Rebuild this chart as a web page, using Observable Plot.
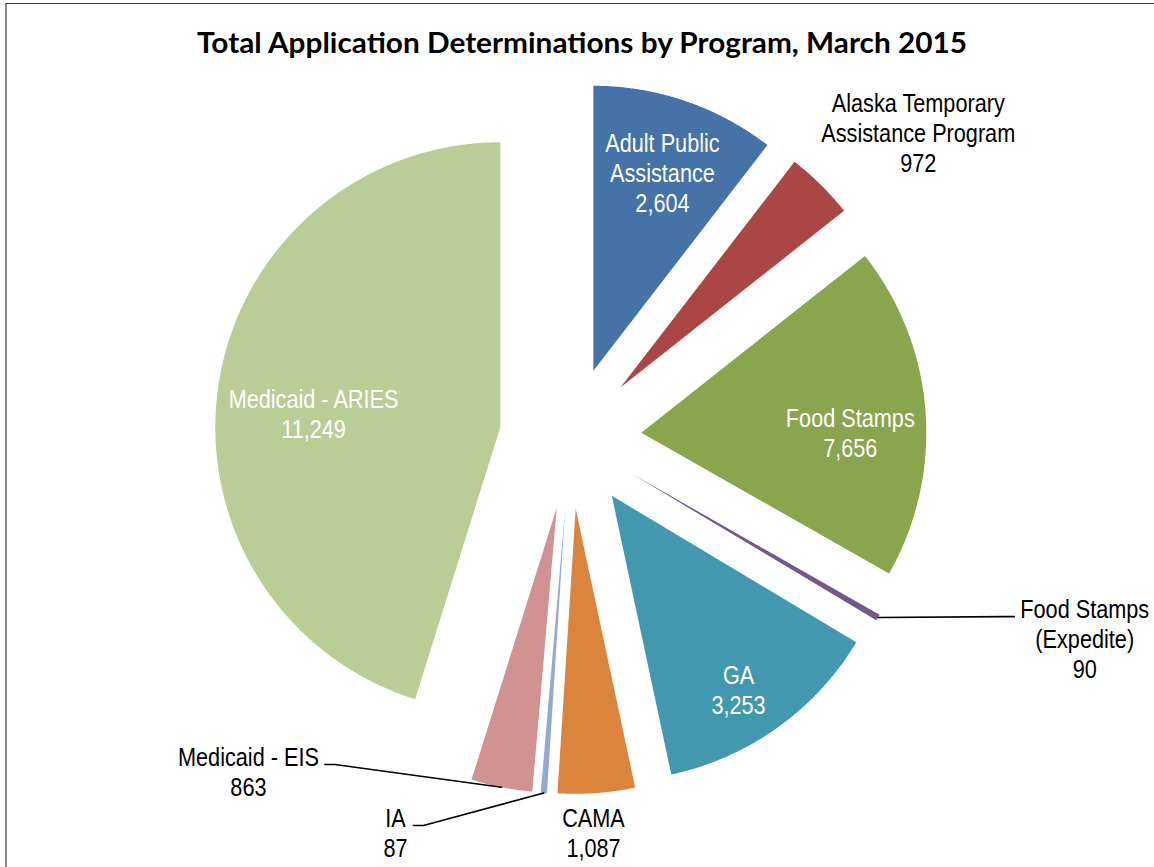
<!DOCTYPE html>
<html><head><meta charset="utf-8">
<script src="https://cdn.jsdelivr.net/npm/d3@7"></script>
<script src="https://cdn.jsdelivr.net/npm/@observablehq/plot@0.6"></script>
<style>
body{margin:0;background:#fff;}
#wrap{position:relative;width:1154px;height:867px;overflow:hidden;background:#fff;}
#frame{position:absolute;left:5px;top:3px;width:1200px;height:900px;border-top:1px solid #3a3a3a;border-left:2px solid #878787;box-sizing:border-box;}
#chart{position:absolute;left:0;top:0;}
#title{position:absolute;left:0;top:28px;width:1164px;text-align:center;white-space:nowrap;font-family:Lato, "Open Sans", sans-serif;font-weight:bold;font-size:28px;line-height:28px;color:#000;}
#title span{display:inline-block;transform-origin:center;}
</style></head><body>
<div id="wrap"><div id="frame"></div><div id="chart"></div><div id="title"><span>Total Application Determinations by Program, March 2015</span></div></div>
<script>
// ---- data ----
const programs = ["Adult Public Assistance", "Alaska Temporary Assistance Program", "Food Stamps", "Food Stamps (Expedite)", "GA", "CAMA", "IA", "Medicaid - EIS", "Medicaid - ARIES"];
const labelLines = [["Adult Public", "Assistance"], ["Alaska Temporary", "Assistance Program"], ["Food Stamps"], ["Food Stamps", "(Expedite)"], ["GA"], ["CAMA"], ["IA"], ["Medicaid - EIS"], ["Medicaid - ARIES"]];
const determinations = [2604, 972, 7656, 90, 3253, 1087, 87, 863, 11249];
// slice sizes as drawn in the picture (the Food Stamps wedge is drawn at ~4,700 although labelled 7,656)
const sliceSizes = [2604, 972, 4700, 90, 3253, 1087, 87, 863, 11249];
const colors = ["#4572A7", "#AA4643", "#89A54E", "#71588F", "#4198AF", "#DB843D", "#93A9CF", "#D19392", "#B9CD96"];

// ---- layout ----
const W = 1154, H = 867;
const cx = 570, cy = 437.5, R = 285, explode = 71;
const insideLabel = [true, false, true, false, true, false, false, false, true];
const labelPolar = [[19.2, 210], [49.45, 392], [90, 209], [110, 482], [146.8, 231.5], [176.85, 324], [207.67, 365.5], [229.45, 405.8], [274.2, 187.3]];
const leaderFor = [3, 6, 7];
const fontFamily = "'Liberation Sans', Arial, sans-serif";
const fontSize = 25.5, lineH = 30, narrow = 0.85;

const d2r = Math.PI / 180;
const arcs = d3.pie().sort(null).value(d => d)(sliceSizes);
const slices = arcs.map((a, i) => {
  const m = (a.startAngle + a.endAngle) / 2;
  const ox = cx + explode * Math.sin(m), oy = cy - explode * Math.cos(m);
  const n = Math.max(2, Math.ceil((a.endAngle - a.startAngle) / (0.25 * d2r)));
  const pts = [{x: ox, y: oy}];
  for (let k = 0; k <= n; k++) {
    const t = a.startAngle + (a.endAngle - a.startAngle) * k / n;
    pts.push({x: ox + R * Math.sin(t), y: oy - R * Math.cos(t)});
  }
  pts.push({x: ox, y: oy});
  return {i, m, ox, oy, pts, color: colors[i]};
});

const fmt = d3.format(",");
const labels = slices.map((s, i) => {
  const [ang, rho] = labelPolar[i];
  return {x: s.ox + rho * Math.sin(ang * d2r), y: s.oy - rho * Math.cos(ang * d2r),
          text: [...labelLines[i], fmt(determinations[i])].join("\n"), inside: insideLabel[i]};
});

const ctx = document.createElement("canvas").getContext("2d");
ctx.font = `${fontSize}px ${fontFamily}`;
const leaders = leaderFor.flatMap(i => {
  const s = slices[i], L = labels[i];
  const px = s.ox + R * Math.sin(s.m), py = s.oy - R * Math.cos(s.m);
  const lines = L.text.split("\n");
  const half = d3.max(lines, t => ctx.measureText(t).width) * narrow / 2;
  const ly = L.y - (lines.length - 1) / 2 * lineH + 8;
  const dir = L.x > px ? -1 : 1;
  const ex = L.x + dir * (half + 6);
  return [{k: i, x: px, y: py}, {k: i, x: ex + dir * 10, y: ly}, {k: i, x: ex, y: ly}];
});

const marks = slices.map(s => Plot.line(s.pts, {x: "x", y: "y", fill: s.color, stroke: "none", curve: "linear"}));
marks.push(Plot.line(leaders, {x: "x", y: "y", z: "k", stroke: "#000", strokeWidth: 1.6}));
marks.push(Plot.text(labels.filter(d => d.inside), {x: "x", y: "y", text: "text", fill: "#fff", fontSize, fontFamily, lineHeight: lineH / fontSize, textAnchor: "middle", className: "slice-label"}));
marks.push(Plot.text(labels.filter(d => !d.inside), {x: "x", y: "y", text: "text", fill: "#000", fontSize, fontFamily, lineHeight: lineH / fontSize, textAnchor: "middle", className: "slice-label"}));

const chart = Plot.plot({
  width: W, height: H, margin: 0,
  x: {domain: [0, W], range: [0, W], axis: null},
  y: {domain: [0, H], range: [0, H], axis: null},
  style: {background: "transparent", overflow: "visible"},
  marks
});
// condense the label glyphs horizontally (narrow sans look)
chart.querySelectorAll("g[aria-label='text'] text").forEach(t => {
  const tr = t.getAttribute("transform") || "";
  t.setAttribute("transform", `${tr} scale(${narrow},1)`);
});
document.getElementById("chart").appendChild(chart);

// fit title width to the reference (~770px)
const span = document.querySelector("#title span");
const w = span.getBoundingClientRect().width;
span.style.transform = `scaleX(${770 / w})`;
</script>
</body></html>
